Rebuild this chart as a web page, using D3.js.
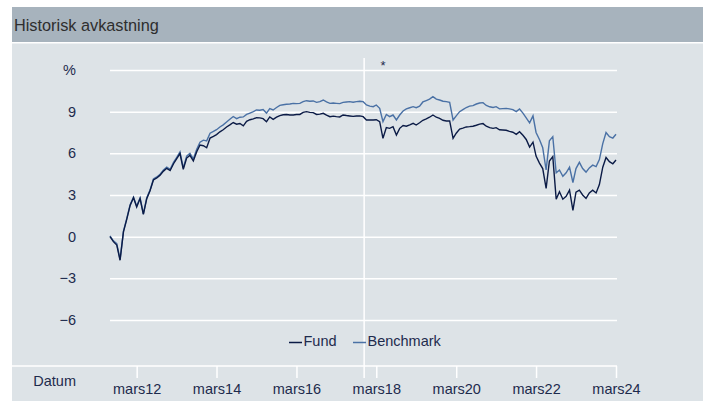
<!DOCTYPE html>
<html>
<head>
<meta charset="utf-8">
<script src="https://cdn.jsdelivr.net/npm/d3@7"></script>
<style>
  body { margin: 0; background: #fff; }
  text { font-family: "Liberation Sans", Arial, sans-serif; }
</style>
</head>
<body>
<div id="chart"></div>
<script>
// monthly observations, Jul 2011 - Mar 2024
const months = [
  "2011-07","2011-08","2011-09","2011-10","2011-11","2011-12",
  "2012-01","2012-02","2012-03","2012-04","2012-05","2012-06","2012-07","2012-08","2012-09","2012-10","2012-11","2012-12",
  "2013-01","2013-02","2013-03","2013-04","2013-05","2013-06","2013-07","2013-08","2013-09","2013-10","2013-11","2013-12",
  "2014-01","2014-02","2014-03","2014-04","2014-05","2014-06","2014-07","2014-08","2014-09","2014-10","2014-11","2014-12",
  "2015-01","2015-02","2015-03","2015-04","2015-05","2015-06","2015-07","2015-08","2015-09","2015-10","2015-11","2015-12",
  "2016-01","2016-02","2016-03","2016-04","2016-05","2016-06","2016-07","2016-08","2016-09","2016-10","2016-11","2016-12",
  "2017-01","2017-02","2017-03","2017-04","2017-05","2017-06","2017-07","2017-08","2017-09","2017-10","2017-11","2017-12",
  "2018-01","2018-02","2018-03","2018-04","2018-05","2018-06","2018-07","2018-08","2018-09","2018-10","2018-11","2018-12",
  "2019-01","2019-02","2019-03","2019-04","2019-05","2019-06","2019-07","2019-08","2019-09","2019-10","2019-11","2019-12",
  "2020-01","2020-02","2020-03","2020-04","2020-05","2020-06","2020-07","2020-08","2020-09","2020-10","2020-11","2020-12",
  "2021-01","2021-02","2021-03","2021-04","2021-05","2021-06","2021-07","2021-08","2021-09","2021-10","2021-11","2021-12",
  "2022-01","2022-02","2022-03","2022-04","2022-05","2022-06","2022-07","2022-08","2022-09","2022-10","2022-11","2022-12",
  "2023-01","2023-02","2023-03","2023-04","2023-05","2023-06","2023-07","2023-08","2023-09","2023-10","2023-11","2023-12",
  "2024-01","2024-02","2024-03"
];

const fund = [
  0.0, -0.36, -0.6, -1.7, 0.35, 1.25,
  2.25, 2.8, 2.14, 2.74, 1.6, 2.74, 3.3, 4.08, 4.23, 4.43, 4.72, 4.92,
  4.76, 5.25, 5.6, 5.98, 4.85, 5.66, 5.85, 5.45, 6.12, 6.6, 6.55, 6.4,
  7.1, 7.22, 7.35, 7.55, 7.7, 7.9, 8.05, 8.22, 8.1, 8.15, 7.98, 8.3,
  8.42, 8.48, 8.57, 8.55, 8.5, 8.28, 8.62, 8.45, 8.6, 8.72, 8.78, 8.8,
  8.76, 8.76, 8.8, 8.8, 8.95, 9.0, 8.95, 8.93, 8.8, 8.82, 8.88, 8.75,
  8.64, 8.68, 8.64, 8.62, 8.76, 8.72, 8.69, 8.66, 8.69, 8.7, 8.64, 8.4,
  8.4, 8.4, 8.42, 8.28, 7.08, 7.85, 7.8, 7.92, 7.32, 7.8, 8.0, 7.95,
  8.05, 8.16, 8.04, 8.2, 8.38, 8.48, 8.6, 8.76, 8.6, 8.52, 8.38, 8.33,
  8.33, 7.08, 7.45, 7.75, 7.82, 7.9, 7.92, 7.95, 8.02, 8.1, 8.14, 7.95,
  7.85, 7.8, 7.85, 7.7, 7.68, 7.66, 7.58, 7.52, 7.37, 7.56, 7.3, 7.0,
  6.45, 6.8, 5.8, 5.3, 4.9, 3.48, 5.45, 5.76, 2.7, 3.24, 2.7, 2.9,
  3.35, 1.9, 3.2, 3.35, 3.0, 2.75, 3.15, 3.35, 3.15, 3.75, 5.0, 5.7,
  5.4, 5.25, 5.52
];

const benchmark = [
  0.05, -0.3, -0.5, -1.65, 0.4, 1.3,
  2.3, 2.85, 2.2, 2.8, 1.65, 2.8, 3.35, 4.15, 4.3, 4.5, 4.8, 5.0,
  4.85, 5.35, 5.7, 6.1, 4.95, 5.8, 6.0, 5.6, 6.3, 6.8, 6.95, 6.9,
  7.45, 7.58, 7.7, 7.9, 8.05, 8.25, 8.45, 8.65, 8.5, 8.6, 8.62, 8.8,
  8.9, 9.0, 9.12, 9.1, 9.15, 8.9, 9.22, 9.12, 9.3, 9.45, 9.5, 9.53,
  9.55, 9.6, 9.58, 9.6, 9.72, 9.79, 9.75, 9.77, 9.67, 9.72, 9.84, 9.7,
  9.6, 9.62, 9.6, 9.58, 9.67, 9.7, 9.72, 9.68, 9.72, 9.75, 9.72, 9.48,
  9.4, 9.36, 9.48, 9.24, 8.28, 8.8, 8.64, 8.76, 8.4, 8.76, 9.05, 9.2,
  9.28, 9.36, 9.29, 9.4, 9.7, 9.8, 9.9, 10.08, 9.9, 9.84, 9.75, 9.72,
  9.67, 8.4, 8.7, 9.0, 9.15, 9.3, 9.4, 9.43, 9.55, 9.62, 9.65, 9.45,
  9.35, 9.3, 9.36, 9.2, 9.22, 9.24, 9.2, 9.15, 9.0, 9.19, 8.9, 8.55,
  8.2, 8.7, 7.5, 7.0, 6.4, 4.8, 6.9, 7.2, 4.6, 4.8, 4.35, 4.6,
  5.0, 3.9, 4.9, 5.35, 4.9, 4.65, 4.95, 5.15, 5.05, 5.55, 6.7, 7.5,
  7.2, 7.1, 7.37
];

const yTicks = [-6, -3, 0, 3, 6, 9, 12];
const xTickDates = ["2012-03", "2014-03", "2016-03", "2018-03", "2020-03", "2022-03", "2024-03"];
const markerDate = "2017-11-10";

const parseMonth = d3.timeParse("%Y-%m");
const dates = months.map(parseMonth);

const width = 708, height = 401;
const textColor = "#1d2b4d";

const svg = d3.select("#chart").append("svg")
  .attr("width", width)
  .attr("height", height);

// title bar + panel
svg.append("rect").attr("x", 12).attr("y", 7).attr("width", 691).attr("height", 35).attr("fill", "#a7b3bd");
svg.append("rect").attr("x", 12).attr("y", 43.5).attr("width", 691).attr("height", 358).attr("fill", "#dde3e7");
svg.append("text")
  .attr("x", 14).attr("y", 31)
  .attr("font-size", "16.3px")
  .attr("fill", "#2e2e2e")
  .text("Historisk avkastning");

const x = d3.scaleTime()
  .domain([dates[0], dates[dates.length - 1]])
  .range([110, 616]);

const y = d3.scaleLinear()
  .domain([-6, 12])
  .range([320, 70]);

// y grid + labels
const yAxis = svg.append("g")
  .attr("transform", "translate(110,0)")
  .call(d3.axisRight(y).tickValues(yTicks).tickSize(507)
    .tickFormat(d => d === 12 ? "%" : (d < 0 ? "\u2212" + Math.abs(d) : d)));
yAxis.select(".domain").remove();
yAxis.selectAll(".tick line").attr("stroke", "#fff").attr("stroke-width", 1.5);
yAxis.selectAll(".tick text")
  .attr("x", -34).attr("text-anchor", "end")
  .attr("font-size", "14.5px").attr("fill", textColor);

// x axis
svg.append("line")
  .attr("x1", 12).attr("x2", 617).attr("y1", 366).attr("y2", 366)
  .attr("stroke", "#fff").attr("stroke-width", 1.5);

const xAxis = svg.append("g")
  .attr("transform", "translate(0,366)")
  .call(d3.axisBottom(x).tickValues(xTickDates.map(parseMonth)).tickSize(12).tickPadding(6)
    .tickFormat(d => "mars" + d3.timeFormat("%y")(d)));
xAxis.select(".domain").remove();
xAxis.selectAll(".tick line").attr("stroke", "#fff").attr("stroke-width", 1.5);
xAxis.selectAll(".tick text").attr("font-size", "14.5px").attr("fill", textColor);

svg.append("text")
  .attr("x", 76).attr("y", 386)
  .attr("text-anchor", "end")
  .attr("font-size", "14.5px").attr("fill", textColor)
  .text("Datum");

// marker line
const mx = x(d3.timeParse("%Y-%m-%d")(markerDate));
svg.append("line")
  .attr("x1", mx).attr("x2", mx).attr("y1", 58).attr("y2", 378)
  .attr("stroke", "#fff").attr("stroke-width", 1.5);
svg.append("text")
  .attr("x", mx + 19).attr("y", 70)
  .attr("text-anchor", "middle")
  .attr("font-size", "13px").attr("fill", textColor)
  .text("*");

// lines
const line = vals => d3.line()
  .x((d, i) => x(dates[i]))
  .y(d => y(d))(vals);

svg.append("path").attr("d", line(benchmark))
  .attr("fill", "none").attr("stroke", "#4a71a5").attr("stroke-width", 1.4);
svg.append("path").attr("d", line(fund))
  .attr("fill", "none").attr("stroke", "#0b1b46").attr("stroke-width", 1.4);

// legend
const legend = [
  { name: "Fund", color: "#0b1b46", x: 289 },
  { name: "Benchmark", color: "#4a71a5", x: 353 }
];
legend.forEach(l => {
  svg.append("line")
    .attr("x1", l.x).attr("x2", l.x + 13).attr("y1", 342.5).attr("y2", 342.5)
    .attr("stroke", l.color).attr("stroke-width", 1.5);
  svg.append("text")
    .attr("x", l.x + 14.5).attr("y", 346)
    .attr("font-size", "14.5px").attr("fill", textColor)
    .text(l.name);
});
</script>
</body>
</html>
